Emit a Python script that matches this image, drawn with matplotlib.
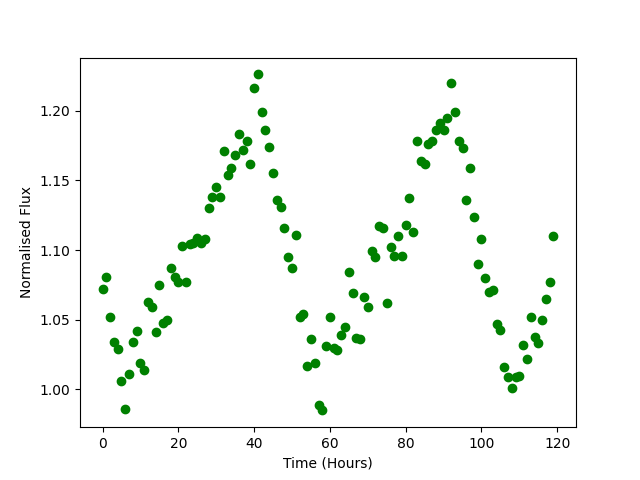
import matplotlib
matplotlib.use("Agg")
import matplotlib.pyplot as plt
import numpy as np

time_hours = list(range(120))
flux = [
    1.072, 1.081, 1.052, 1.034, 1.029, 1.006, 0.986, 1.011, 1.034, 1.042,
    1.019, 1.014, 1.063, 1.059, 1.041, 1.075, 1.048, 1.050, 1.087, 1.081,
    1.077, 1.103, 1.077, 1.104, 1.105, 1.109, 1.105, 1.108, 1.130, 1.138,
    1.145, 1.138, 1.171, 1.154, 1.159, 1.168, 1.183, 1.172, 1.178, 1.162,
    1.216, 1.226, 1.199, 1.186, 1.174, 1.155, 1.136, 1.131, 1.116, 1.095,
    1.087, 1.111, 1.052, 1.054, 1.017, 1.036, 1.019, 0.989, 0.985, 1.031,
    1.052, 1.030, 1.028, 1.039, 1.045, 1.084, 1.069, 1.037, 1.036, 1.066,
    1.059, 1.099, 1.095, 1.117, 1.116, 1.062, 1.102, 1.096, 1.110, 1.096,
    1.118, 1.137, 1.113, 1.178, 1.164, 1.162, 1.176, 1.178, 1.186, 1.191,
    1.186, 1.195, 1.220, 1.199, 1.178, 1.173, 1.136, 1.159, 1.124, 1.090,
    1.108, 1.080, 1.070, 1.071, 1.047, 1.043, 1.016, 1.009, 1.001, 1.009,
    1.010, 1.032, 1.022, 1.052, 1.038, 1.033, 1.050, 1.065, 1.077, 1.110,
]

fig, ax = plt.subplots(figsize=(6.4, 4.8), dpi=100)
ax.plot(time_hours, flux, 'o', color='green')
ax.set_xlabel('Time (Hours)')
ax.set_ylabel('Normalised Flux')
fig.savefig('out.png')
